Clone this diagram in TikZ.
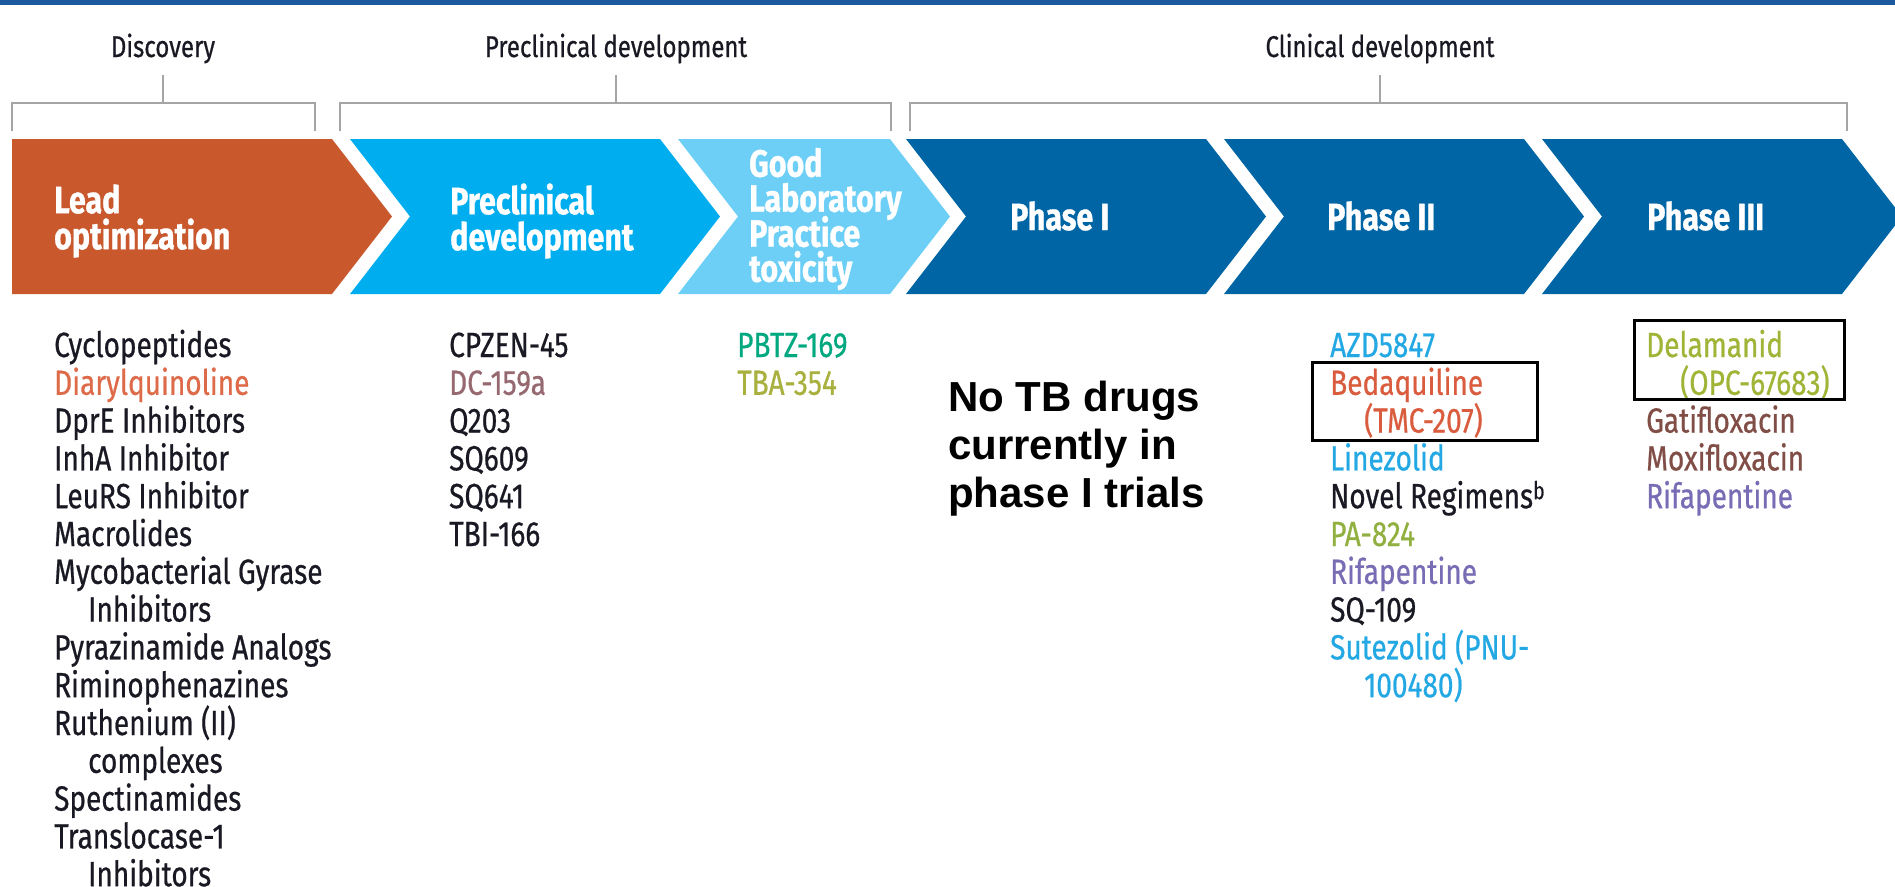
\documentclass[tikz,border=0pt]{standalone}
\usepackage{fontspec}
\setmainfont{Fira Sans}[FakeStretch=0.8, UprightFeatures={FakeBold=0.6}, BoldFeatures={FakeBold=0.8}]
\newfontfamily\notefont{Liberation Sans}
\usepackage{tikz}
\usetikzlibrary{calc}
\definecolor{barblue}{RGB}{28,90,160}
\definecolor{leadorange}{RGB}{201,88,45}
\definecolor{precyan}{RGB}{0,174,239}
\definecolor{glpblue}{RGB}{109,207,246}
\definecolor{phaseblue}{RGB}{0,101,164}
\definecolor{bracketgray}{RGB}{165,165,165}
\definecolor{ink}{RGB}{25,25,35}
\definecolor{dqorange}{RGB}{221,106,72}
\definecolor{mauve}{RGB}{150,104,112}
\definecolor{drugteal}{RGB}{0,168,128}
\definecolor{drugolive}{RGB}{168,176,62}
\definecolor{drugsky}{RGB}{35,168,228}
\definecolor{drugred}{RGB}{218,92,62}
\definecolor{druggreen}{RGB}{145,176,64}
\definecolor{drugpurple}{RGB}{120,108,180}
\definecolor{drugbrown}{RGB}{128,78,70}
\definecolor{delagreen}{RGB}{160,180,55}
\newcommand{\tightlines}{\lineskiplimit=-20pt\relax}
\tikzstyle{stagelabel}=[anchor=west, align=left, inner sep=0pt, text=white, font=\bfseries\fontsize{38}{35}\selectfont\tightlines]
\tikzstyle{drug}=[anchor=base west, inner sep=0pt, font=\fontsize{35}{37.8}\selectfont]
\tikzstyle{groupname}=[anchor=base, inner sep=0pt, text=ink, font=\fontsize{30}{30}\selectfont]
\tikzstyle{bracketline}=[draw=bracketgray, line width=2pt]
\tikzstyle{highlight}=[draw=black, line width=3pt]
\newcommand{\wrapind}{\hspace*{34pt}}
\newcommand{\chevron}[4]{
 \fill[#1] (#2,139) -- (#3,139) -- (#3+60,216.5) -- (#3,294) -- (#2,294) -- (#2+#4,216.5) -- cycle;
}
\newcommand{\bracket}[3]{
 \draw[bracketline] (#2,75) -- (#2,103);
 \draw[bracketline] (#1,131) -- (#1,103) -- (#3,103) -- (#3,131);
}
\newcommand{\drugcol}[3]{
 \foreach \txt/\col [count=\k from 0] in {#3}
  \node[drug, text=\col] (#1-\k) at (#2,357+37.8*\k) {\txt};
}

\begin{document}
\begin{tikzpicture}[x=1pt, y=-1pt]
 \useasboundingbox (0,0) rectangle (1895,886);
 \fill[barblue] (0,0) rectangle (1895,5);
%
 \node[groupname] (disc) at (163,57) {Discovery};
 \node[groupname] (prehead) at (616,57) {Preclinical development};
 \node[groupname] (clinhead) at (1380,57) {Clinical development};
 \bracket{12}{163}{315}
 \bracket{340}{616}{891}
 \bracket{910}{1380}{1847}
%
 \chevron{leadorange}{12}{332}{0}
 \chevron{precyan}{350}{660}{60}
 \chevron{glpblue}{678}{890}{60}
 \chevron{phaseblue}{906}{1206}{60}
 \chevron{phaseblue}{1224}{1524}{60}
 \chevron{phaseblue}{1542}{1842}{60}
%
 \node[stagelabel] (leadlbl) at (54,221) {Lead\\[1pt]optimization};
 \node[stagelabel] (precllbl) at (450,221) {Preclinical\\[1pt]development};
 \node[stagelabel] (glplbl) at (749,219) {Good\\Laboratory\\Practice\\toxicity};
 \node[stagelabel] (ph1lbl) at (1010,216) {Phase I};
 \node[stagelabel] (ph2lbl) at (1327,216) {Phase II};
 \node[stagelabel] (ph3lbl) at (1647,216) {Phase III};
%
 \drugcol{lead}{54}{Cyclopeptides/ink, Diarylquinoline/dqorange, DprE Inhibitors/ink, InhA Inhibitor/ink, LeuRS Inhibitor/ink, Macrolides/ink, Mycobacterial Gyrase/ink, \wrapind Inhibitors/ink, Pyrazinamide Analogs/ink, Riminophenazines/ink, Ruthenium (II)/ink, \wrapind complexes/ink, Spectinamides/ink, Translocase-1/ink, \wrapind Inhibitors/ink}
 \drugcol{precl}{449}{CPZEN-45/ink, DC-159a/mauve, Q203/ink, SQ609/ink, SQ641/ink, TBI-166/ink}
 \drugcol{glp}{737}{PBTZ-169/drugteal, TBA-354/drugolive}
 \drugcol{phII}{1330}{AZD5847/drugsky, Bedaquiline/drugred, \wrapind(TMC-207)/drugred, Linezolid/drugsky, Novel Regimens\textsuperscript{b}/ink, PA-824/druggreen, Rifapentine/drugpurple, SQ-109/ink, Sutezolid (PNU-/drugsky, \wrapind 100480)/drugsky}
 \drugcol{phIII}{1646}{Delamanid/delagreen, \wrapind(OPC-67683)/delagreen, Gatifloxacin/drugbrown, Moxifloxacin/drugbrown, Rifapentine/drugpurple}
%
 \draw[highlight] (1312,362) rectangle (1537,440);
 \draw[highlight] (1634,320) rectangle (1844,399);
%
 \node[anchor=north west, align=left, inner sep=0pt, font=\notefont\bfseries\fontsize{42}{48}\selectfont] (nophaseone) at (948,381) {No TB drugs\\currently in\\phase I trials};
\end{tikzpicture}
\end{document}
